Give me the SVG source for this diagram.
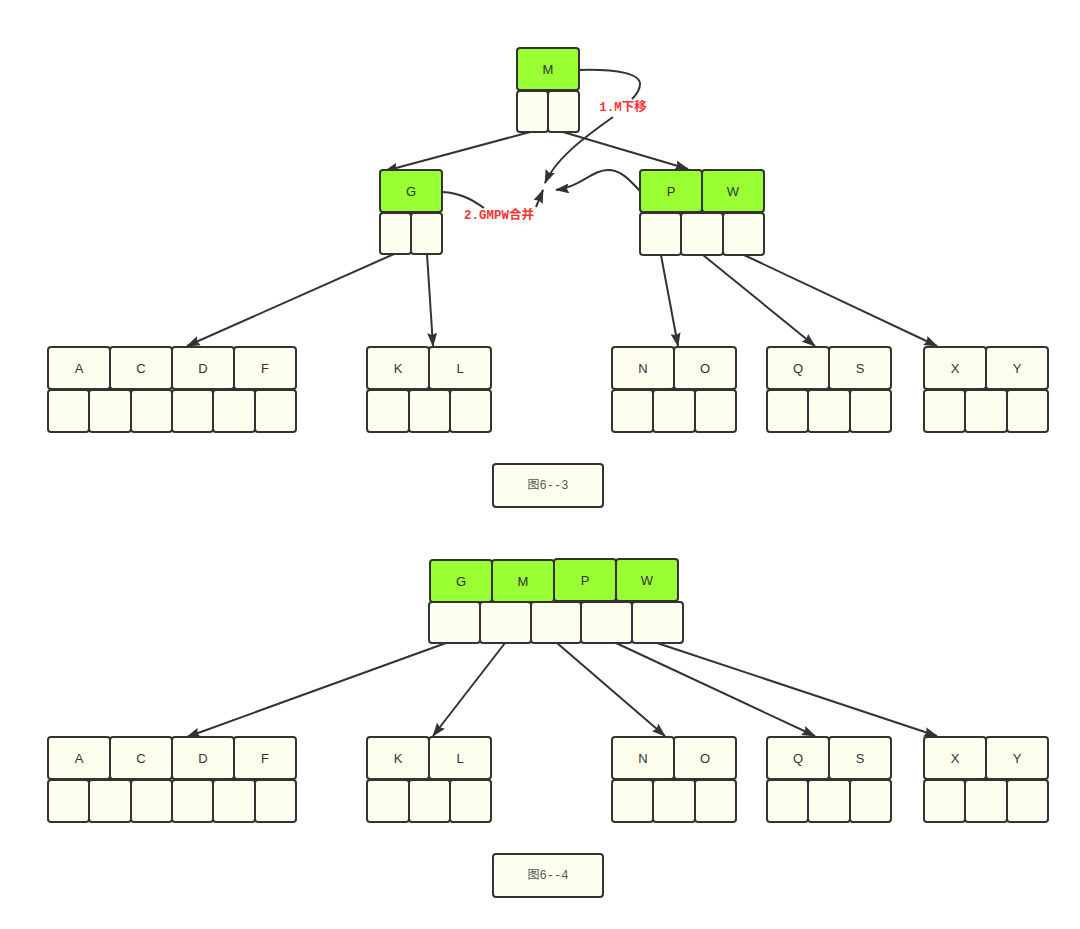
<svg xmlns="http://www.w3.org/2000/svg" width="1080" height="929" viewBox="0 0 1080 929">
<defs>
<style>
.k{fill:#99ff33;stroke:#333;stroke-width:2}
.c{fill:#fefeee;stroke:#333;stroke-width:2}
.t{font-family:"Liberation Sans",Arial,sans-serif;font-size:13px;fill:#333;text-anchor:middle;dominant-baseline:central}
.cap{font-family:"Liberation Mono","Noto Sans CJK SC",monospace;font-size:12px;fill:#555;text-anchor:middle;dominant-baseline:central}
.lab{font-family:"Liberation Mono","Noto Sans CJK SC",monospace;font-size:12.5px;font-weight:bold;fill:#ff3333;text-anchor:middle;dominant-baseline:central}
.e{fill:none;stroke:#333;stroke-width:2;marker-end:url(#ar)}
.n{fill:none;stroke:#333;stroke-width:2}
</style>
<marker id="ar" viewBox="0 0 14 10" refX="13" refY="5" markerWidth="14" markerHeight="10" markerUnits="userSpaceOnUse" orient="auto"><path d="M0,0 L14,5 L0,10 L2,5 z" fill="#333"/></marker>
</defs>

<g id="connectors">
<path class="e" d="M530,132 L385,171"/>
<path class="e" d="M563,132 L688,169"/>
<path class="e" d="M394,254 L187,346"/>
<path class="e" d="M427,254 L433,346"/>
<path class="e" d="M661,255 L678,346"/>
<path class="e" d="M703,255 L815,346"/>
<path class="e" d="M744,255 L937,346"/>
<path class="e" d="M446,643 L187,737"/>
<path class="e" d="M505,643 L433,736"/>
<path class="e" d="M557,643 L665,736"/>
<path class="e" d="M616,643 L815,736"/>
<path class="e" d="M657,643 L937,736"/>
<path class="n" d="M579,70 C620,69 640,74 640,84 C640,90 636,95 632,99"/>
<path class="e" d="M613,117 C585,137 556,158 545,183"/>
<path class="n" d="M442,192 C462,193 474,201 484,208"/>
<path class="e" d="M536,207 L543,190"/>
<path class="e" d="M640,191 C628,178 620,170 608,170 C592,170 580,187 556,190"/>
</g>

<g id="label-1"><text class="lab" x="623" y="107.5">1.M下移</text></g>
<g id="label-2"><text class="lab" x="499" y="215.5">2.GMPW合并</text></g>

<g id="node-M">
<rect class="k" x="517" y="48" width="62" height="42" rx="3"/>
<text class="t" x="548" y="69">M</text>
<rect class="c" x="517" y="91" width="31" height="41" rx="3"/>
<rect class="c" x="548" y="91" width="31" height="41" rx="3"/>
</g>

<g id="node-G">
<rect class="k" x="380" y="170" width="62" height="42" rx="3"/>
<text class="t" x="411" y="191">G</text>
<rect class="c" x="380" y="213" width="31" height="41" rx="3"/>
<rect class="c" x="411" y="213" width="31" height="41" rx="3"/>
</g>

<g id="node-PW">
<rect class="k" x="640" y="170" width="62" height="42" rx="3"/>
<rect class="k" x="702" y="170" width="62" height="42" rx="3"/>
<text class="t" x="671" y="191">P</text>
<text class="t" x="733" y="191">W</text>
<rect class="c" x="640" y="213" width="41" height="42" rx="3"/>
<rect class="c" x="681" y="213" width="42" height="42" rx="3"/>
<rect class="c" x="723" y="213" width="41" height="42" rx="3"/>
</g>

<g id="node-ACDF-top">
<rect class="c" x="48" y="347" width="62" height="42" rx="3"/>
<rect class="c" x="110" y="347" width="62" height="42" rx="3"/>
<rect class="c" x="172" y="347" width="62" height="42" rx="3"/>
<rect class="c" x="234" y="347" width="62" height="42" rx="3"/>
<text class="t" x="79" y="368">A</text>
<text class="t" x="141" y="368">C</text>
<text class="t" x="203" y="368">D</text>
<text class="t" x="265" y="368">F</text>
<rect class="c" x="48" y="390" width="41" height="42" rx="3"/>
<rect class="c" x="89" y="390" width="42" height="42" rx="3"/>
<rect class="c" x="131" y="390" width="41" height="42" rx="3"/>
<rect class="c" x="172" y="390" width="41" height="42" rx="3"/>
<rect class="c" x="213" y="390" width="42" height="42" rx="3"/>
<rect class="c" x="255" y="390" width="41" height="42" rx="3"/>
</g>

<g id="node-KL-top">
<rect class="c" x="367" y="347" width="62" height="42" rx="3"/>
<rect class="c" x="429" y="347" width="62" height="42" rx="3"/>
<text class="t" x="398" y="368">K</text>
<text class="t" x="460" y="368">L</text>
<rect class="c" x="367" y="390" width="42" height="42" rx="3"/>
<rect class="c" x="409" y="390" width="41" height="42" rx="3"/>
<rect class="c" x="450" y="390" width="41" height="42" rx="3"/>
</g>

<g id="node-NO-top">
<rect class="c" x="612" y="347" width="62" height="42" rx="3"/>
<rect class="c" x="674" y="347" width="62" height="42" rx="3"/>
<text class="t" x="643" y="368">N</text>
<text class="t" x="705" y="368">O</text>
<rect class="c" x="612" y="390" width="41" height="42" rx="3"/>
<rect class="c" x="653" y="390" width="42" height="42" rx="3"/>
<rect class="c" x="695" y="390" width="41" height="42" rx="3"/>
</g>

<g id="node-QS-top">
<rect class="c" x="767" y="347" width="62" height="42" rx="3"/>
<rect class="c" x="829" y="347" width="62" height="42" rx="3"/>
<text class="t" x="798" y="368">Q</text>
<text class="t" x="860" y="368">S</text>
<rect class="c" x="767" y="390" width="41" height="42" rx="3"/>
<rect class="c" x="808" y="390" width="42" height="42" rx="3"/>
<rect class="c" x="850" y="390" width="41" height="42" rx="3"/>
</g>

<g id="node-XY-top">
<rect class="c" x="924" y="347" width="62" height="42" rx="3"/>
<rect class="c" x="986" y="347" width="62" height="42" rx="3"/>
<text class="t" x="955" y="368">X</text>
<text class="t" x="1017" y="368">Y</text>
<rect class="c" x="924" y="390" width="41" height="42" rx="3"/>
<rect class="c" x="965" y="390" width="42" height="42" rx="3"/>
<rect class="c" x="1007" y="390" width="41" height="42" rx="3"/>
</g>

<g id="caption-1">
<rect class="c" x="493" y="464" width="110" height="43" rx="3"/>
<text class="cap" x="548" y="486">图6--3</text>
</g>

<g id="node-GMPW">
<rect class="k" x="430" y="560" width="62" height="42" rx="3"/>
<rect class="k" x="492" y="560" width="62" height="42" rx="3"/>
<rect class="k" x="554" y="559" width="62" height="42" rx="3"/>
<rect class="k" x="616" y="559" width="62" height="42" rx="3"/>
<text class="t" x="461" y="581">G</text>
<text class="t" x="523" y="581">M</text>
<text class="t" x="585" y="580">P</text>
<text class="t" x="647" y="580">W</text>
<rect class="c" x="429" y="602" width="51" height="41" rx="3"/>
<rect class="c" x="480" y="602" width="51" height="41" rx="3"/>
<rect class="c" x="531" y="602" width="50" height="41" rx="3"/>
<rect class="c" x="581" y="602" width="51" height="41" rx="3"/>
<rect class="c" x="632" y="602" width="51" height="41" rx="3"/>
</g>

<g id="node-ACDF-bottom">
<rect class="c" x="48" y="737" width="62" height="42" rx="3"/>
<rect class="c" x="110" y="737" width="62" height="42" rx="3"/>
<rect class="c" x="172" y="737" width="62" height="42" rx="3"/>
<rect class="c" x="234" y="737" width="62" height="42" rx="3"/>
<text class="t" x="79" y="758">A</text>
<text class="t" x="141" y="758">C</text>
<text class="t" x="203" y="758">D</text>
<text class="t" x="265" y="758">F</text>
<rect class="c" x="48" y="780" width="41" height="42" rx="3"/>
<rect class="c" x="89" y="780" width="42" height="42" rx="3"/>
<rect class="c" x="131" y="780" width="41" height="42" rx="3"/>
<rect class="c" x="172" y="780" width="41" height="42" rx="3"/>
<rect class="c" x="213" y="780" width="42" height="42" rx="3"/>
<rect class="c" x="255" y="780" width="41" height="42" rx="3"/>
</g>

<g id="node-KL-bottom">
<rect class="c" x="367" y="737" width="62" height="42" rx="3"/>
<rect class="c" x="429" y="737" width="62" height="42" rx="3"/>
<text class="t" x="398" y="758">K</text>
<text class="t" x="460" y="758">L</text>
<rect class="c" x="367" y="780" width="42" height="42" rx="3"/>
<rect class="c" x="409" y="780" width="41" height="42" rx="3"/>
<rect class="c" x="450" y="780" width="41" height="42" rx="3"/>
</g>

<g id="node-NO-bottom">
<rect class="c" x="612" y="737" width="62" height="42" rx="3"/>
<rect class="c" x="674" y="737" width="62" height="42" rx="3"/>
<text class="t" x="643" y="758">N</text>
<text class="t" x="705" y="758">O</text>
<rect class="c" x="612" y="780" width="41" height="42" rx="3"/>
<rect class="c" x="653" y="780" width="42" height="42" rx="3"/>
<rect class="c" x="695" y="780" width="41" height="42" rx="3"/>
</g>

<g id="node-QS-bottom">
<rect class="c" x="767" y="737" width="62" height="42" rx="3"/>
<rect class="c" x="829" y="737" width="62" height="42" rx="3"/>
<text class="t" x="798" y="758">Q</text>
<text class="t" x="860" y="758">S</text>
<rect class="c" x="767" y="780" width="41" height="42" rx="3"/>
<rect class="c" x="808" y="780" width="42" height="42" rx="3"/>
<rect class="c" x="850" y="780" width="41" height="42" rx="3"/>
</g>

<g id="node-XY-bottom">
<rect class="c" x="924" y="737" width="62" height="42" rx="3"/>
<rect class="c" x="986" y="737" width="62" height="42" rx="3"/>
<text class="t" x="955" y="758">X</text>
<text class="t" x="1017" y="758">Y</text>
<rect class="c" x="924" y="780" width="41" height="42" rx="3"/>
<rect class="c" x="965" y="780" width="42" height="42" rx="3"/>
<rect class="c" x="1007" y="780" width="41" height="42" rx="3"/>
</g>

<g id="caption-2">
<rect class="c" x="493" y="854" width="110" height="43" rx="3"/>
<text class="cap" x="548" y="876">图6--4</text>
</g>
</svg>
